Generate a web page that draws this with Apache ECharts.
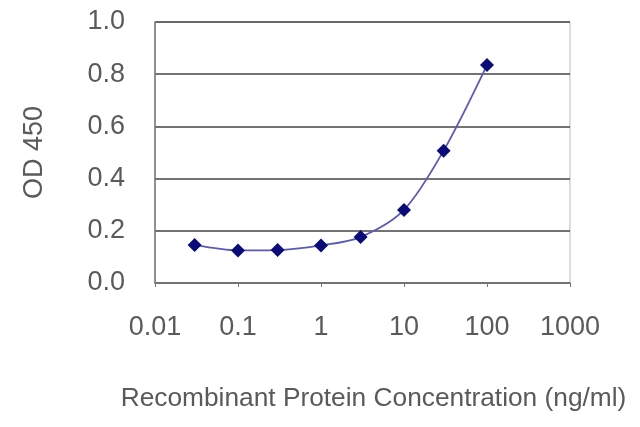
<!DOCTYPE html>
<html><head><meta charset="utf-8">
<script src="https://cdn.jsdelivr.net/npm/echarts@6/dist/echarts.min.js"></script>
<style>html,body{margin:0;padding:0;background:#fff}#c{width:640px;height:427px}</style>
</head><body><div id="c"></div>
<script>
const concentrations = [0.03, 0.1, 0.3, 1, 3, 10, 30, 100];
const odValues = [0.146, 0.125, 0.126, 0.144, 0.176, 0.28, 0.507, 0.835];
const yTicks = [0, 0.2, 0.4, 0.6, 0.8, 1.0];
const xTicks = [0.01, 0.1, 1, 10, 100, 1000];

const chart = echarts.init(document.getElementById('c'));
const font = '"Liberation Sans", Arial, sans-serif';
chart.setOption({
  animation: false,
  grid: {left: 155, right: 70, top: 22, bottom: 144, show: true, borderColor: '#bbb', borderWidth: 1},
  xAxis: {
    type: 'log', logBase: 10, min: xTicks[0], max: xTicks[xTicks.length - 1],
    axisLine: {show: true, lineStyle: {color: '#777', width: 1.5}},
    axisTick: {show: true, length: 4, inside: false, lineStyle: {color: '#777'}},
    minorTick: {show: false},
    splitLine: {show: false},
    axisLabel: {color: '#5a5a5a', fontSize: 27, fontFamily: font, margin: 31,
      formatter: v => { const t = xTicks.find(x => Math.abs(Math.log10(x) - Math.log10(v)) < 1e-6); return t !== undefined ? String(t) : ''; }},
    name: 'Recombinant Protein Concentration (ng/ml)',
    nameLocation: 'middle', nameGap: 103,
    nameTextStyle: {color: '#5a5a5a', fontSize: 26.3, fontFamily: font, padding: [0, 0, 0, 22]}
  },
  yAxis: {
    type: 'value', min: yTicks[0], max: yTicks[yTicks.length - 1], interval: 0.2,
    axisLine: {show: true, lineStyle: {color: '#777', width: 1.5}},
    axisTick: {show: false},
    splitLine: {show: true, lineStyle: {color: '#444', width: 1.5}},
    axisLabel: {color: '#5a5a5a', fontSize: 27, fontFamily: font, margin: 30, formatter: v => v.toFixed(1)},
    name: 'OD 450', nameLocation: 'middle', nameGap: 107, nameRotate: 90,
    nameTextStyle: {color: '#5a5a5a', fontSize: 27, fontFamily: font}
  },
  series: [{
    type: 'line', smooth: 0.3,
    data: concentrations.map((c, i) => [c, odValues[i]]),
    symbol: 'diamond', symbolSize: 14,
    itemStyle: {color: '#0a0a78'},
    lineStyle: {color: '#5a5ab4', width: 1.8}
  }]
});
</script></body></html>
